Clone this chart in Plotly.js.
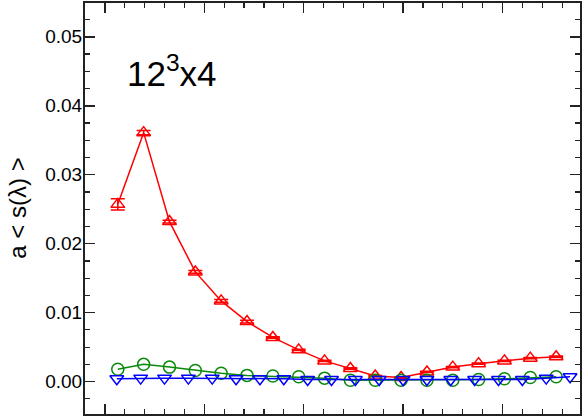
<!DOCTYPE html>
<html>
<head>
<meta charset="utf-8">
<script src="https://cdn.plot.ly/plotly-3.0.1.min.js"></script>
<style>
  body { margin: 0; background: #fff; }
  #chart { width: 584px; height: 418px; }
</style>
</head>
<body>
<div id="chart"></div>
<script>
// positions along the (unlabelled) x axis
var xRed = [0.13, 0.39, 0.65, 0.91, 1.17, 1.43, 1.69, 1.95, 2.21, 2.47, 2.72, 2.98, 3.24, 3.50, 3.76, 4.02, 4.28, 4.54];
var xBlue = [0.12, 0.36, 0.60, 0.84, 1.08, 1.32, 1.56, 1.80, 2.04, 2.28, 2.52, 2.76, 3.00, 3.24, 3.48, 3.72, 3.96, 4.20, 4.44, 4.68];

var redVals = [0.0257, 0.0361, 0.0232, 0.0159, 0.0117, 0.0087, 0.0064, 0.0046, 0.0030, 0.0019, 0.0008, 0.0006, 0.0014, 0.0021, 0.0026, 0.0030, 0.0034, 0.0036];
var redErr = [0.0008, 0.0003, 0.0002, 0.0002, 0.0002, 0.0002, 0.0001, 0.0001, 0.0001, 0.0001, 0.0001, 0.0001, 0.0001, 0.0001, 0.0001, 0.0001, 0.0001, 0.0001];
var greenVals = [0.0018, 0.0025, 0.0021, 0.0016, 0.0012, 0.0009, 0.0008, 0.0007, 0.0005, 0.0002, 0.0002, 0.0002, 0.0002, 0.0002, 0.0003, 0.0004, 0.0006, 0.0007];
var blueVals = [0.0004, 0.0005, 0.0005, 0.0005, 0.0005, 0.0004, 0.0004, 0.0004, 0.0003, 0.0003, 0.0003, 0.0003, 0.0003, 0.0003, 0.0003, 0.0003, 0.0003, 0.0003, 0.0005, 0.0007];

var yTicks = [0.00, 0.01, 0.02, 0.03, 0.04, 0.05];

var traces = [
  {
    x: xRed, y: redVals, type: 'scatter', mode: 'lines+markers',
    line: {color: '#ff0000', width: 1.5},
    marker: {symbol: 'triangle-up-open', size: 12, color: '#ff0000', line: {width: 1.5}},
    error_y: {type: 'data', array: redErr, visible: true, color: '#ff0000', thickness: 1.5, width: 7}
  },
  {
    x: xRed, y: greenVals, type: 'scatter', mode: 'lines+markers',
    line: {color: '#0a8a0a', width: 1.5},
    marker: {symbol: 'circle-open', size: 12, color: '#0a8a0a', line: {width: 1.5}}
  },
  {
    x: xBlue, y: blueVals, type: 'scatter', mode: 'lines+markers',
    line: {color: '#0000ff', width: 1.5},
    marker: {symbol: 'triangle-down-open', size: 12, color: '#0000ff', line: {width: 1.5}}
  }
];

var layout = {
  width: 584, height: 418,
  margin: {l: 85, r: 4, t: 3, b: 4},
  paper_bgcolor: '#fff', plot_bgcolor: '#fff',
  showlegend: false,
  font: {family: 'Liberation Sans, Arial, sans-serif', color: '#000'},
  xaxis: {
    range: [-0.2, 4.78], showgrid: false, zeroline: false,
    showline: true, linecolor: '#222', linewidth: 2, mirror: 'allticks',
    ticks: 'inside', ticklen: 10, tickwidth: 1.5, tickcolor: '#222',
    tick0: 0, dtick: 1, showticklabels: false,
    minor: {ticks: 'inside', ticklen: 5, tickwidth: 1.2, tickcolor: '#222', dtick: 0.2, showgrid: false}
  },
  yaxis: {
    range: [-0.0047, 0.0549], showgrid: false, zeroline: false,
    showline: true, linecolor: '#222', linewidth: 2, mirror: 'allticks',
    ticks: 'inside', ticklen: 10, tickwidth: 1.5, tickcolor: '#222',
    tickvals: yTicks, tickformat: '.2f', ticklabelstandoff: -3,
    tickfont: {size: 19, color: '#000'},
    minor: {ticks: 'inside', ticklen: 5, tickwidth: 1.2, tickcolor: '#222', dtick: 0.0025, showgrid: false}
  },
  annotations: [
    {
      text: '12<sup>3</sup>x4', xref: 'paper', yref: 'paper',
      x: 0.08, y: 0.775, xanchor: 'left', yanchor: 'bottom', showarrow: false,
      font: {size: 35, color: '#000'}
    },
    {
      text: 'a < s(λ) >', xref: 'paper', yref: 'paper',
      x: -0.137, y: 0.5, xanchor: 'center', yanchor: 'middle', showarrow: false,
      textangle: -90, font: {size: 24, color: '#000'}
    }
  ]
};

Plotly.newPlot('chart', traces, layout, {displayModeBar: false, staticPlot: true});
</script>
</body>
</html>
